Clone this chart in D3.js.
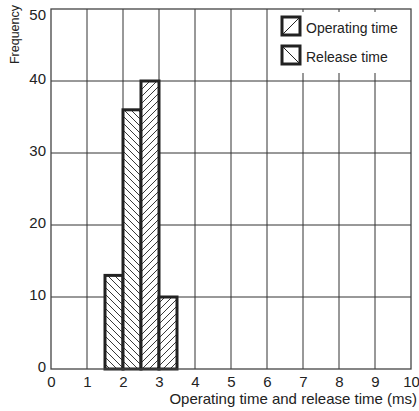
<!DOCTYPE html>
<html>
<head>
<meta charset="utf-8">
<script src="https://cdn.jsdelivr.net/npm/d3@7"></script>
<style>
  body { margin: 0; background: #fff; }
  text { font-family: "Liberation Sans", Arial, sans-serif; fill: #222; }
</style>
</head>
<body>
<svg id="chart" width="419" height="411"></svg>
<script>
// data
const binEdges = [1.5, 2.0, 2.5, 3.0, 3.5];
const releaseCounts = [13, 36, 0, 0];
const operatingCounts = [0, 0, 40, 10];
const xTicks = [0, 1, 2, 3, 4, 5, 6, 7, 8, 9, 10];
const yTicks = [0, 10, 20, 30, 40, 50];
const legendLabels = ['Operating time', 'Release time'];

// plot area edges
const pLeft = 51, pRight = 411, pTop = 9, pBottom = 369;

const x = d3.scaleLinear().domain([0, 10]).range([pLeft, pRight]);
const y = d3.scaleLinear().domain([0, 50]).range([pBottom, pTop]);

const svg = d3.select('#chart');

// hatch patterns
const defs = svg.append('defs');
const fwd = defs.append('pattern')
  .attr('id', 'fwd').attr('patternUnits', 'userSpaceOnUse')
  .attr('width', 7).attr('height', 7);
fwd.append('rect').attr('width', 7).attr('height', 7).attr('fill', '#fff');
fwd.append('path').attr('d', 'M-1,1 l2,-2 M0,7 l7,-7 M6,8 l2,-2')
  .attr('stroke', '#222').attr('stroke-width', 0.9);
const back = defs.append('pattern')
  .attr('id', 'back').attr('patternUnits', 'userSpaceOnUse')
  .attr('width', 7).attr('height', 7);
back.append('rect').attr('width', 7).attr('height', 7).attr('fill', '#fff');
back.append('path').attr('d', 'M0,0 l7,7 M-1,6 l2,2 M6,-1 l2,2')
  .attr('stroke', '#222').attr('stroke-width', 0.9);

// grid
svg.append('g').selectAll('line').data(xTicks.slice(1, -1)).enter()
  .append('line')
  .attr('x1', d => x(d)).attr('x2', d => x(d))
  .attr('y1', pTop).attr('y2', pBottom)
  .attr('stroke', '#333').attr('stroke-width', 1);
svg.append('g').selectAll('line').data(yTicks.slice(1, -1)).enter()
  .append('line')
  .attr('x1', pLeft).attr('x2', pRight)
  .attr('y1', d => y(d)).attr('y2', d => y(d))
  .attr('stroke', '#333').attr('stroke-width', 1);

// legend
const lg = svg.append('g');
lg.append('rect').attr('x', 274).attr('y', 12).attr('width', pRight - 274).attr('height', 61)
  .attr('fill', '#fff');
legendLabels.forEach((lab, i) => {
  const sy = 17 + i * 29;
  lg.append('rect').attr('x', 282).attr('y', sy).attr('width', 18).attr('height', 18)
    .attr('fill', '#fff').attr('stroke', '#222').attr('stroke-width', 3);
  if (i === 0) {
    lg.append('line').attr('x1', 282).attr('y1', sy + 18).attr('x2', 300).attr('y2', sy)
      .attr('stroke', '#222').attr('stroke-width', 1);
  } else {
    lg.append('line').attr('x1', 282).attr('y1', sy).attr('x2', 300).attr('y2', sy + 18)
      .attr('stroke', '#222').attr('stroke-width', 1);
  }
  lg.append('text').attr('x', 306).attr('y', sy + 15.5)
    .attr('font-size', 14).text(lab);
});

// bars
const bins = binEdges.slice(0, -1).map((b, i) => ({
  x0: b, x1: binEdges[i + 1],
  value: releaseCounts[i] || operatingCounts[i],
  kind: releaseCounts[i] ? 'back' : 'fwd'
}));
svg.append('g').selectAll('rect').data(bins).enter()
  .append('rect')
  .attr('x', d => x(d.x0))
  .attr('y', d => y(d.value))
  .attr('width', d => x(d.x1) - x(d.x0))
  .attr('height', d => y(0) - y(d.value))
  .attr('fill', d => `url(#${d.kind})`)
  .attr('stroke', '#222').attr('stroke-width', 3);

// frame
svg.append('rect').attr('x', pLeft).attr('y', pTop)
  .attr('width', pRight - pLeft).attr('height', pBottom - pTop)
  .attr('fill', 'none').attr('stroke', '#444').attr('stroke-width', 1.3);

// axes
const xAxis = svg.append('g')
  .attr('transform', `translate(0,${pBottom})`)
  .call(d3.axisBottom(x).tickValues(xTicks).tickSize(0).tickPadding(7));
xAxis.select('.domain').remove();
xAxis.selectAll('text').attr('font-size', 15).attr('fill', '#222')
  .attr('font-family', '"Liberation Sans", Arial, sans-serif');

const yAxis = svg.append('g')
  .attr('transform', `translate(${pLeft},0)`)
  .call(d3.axisLeft(y).tickValues(yTicks).tickSize(0).tickPadding(5));
yAxis.select('.domain').remove();
yAxis.selectAll('text').attr('font-size', 15).attr('fill', '#222')
  .attr('dy', d => d === 50 ? '0.7em' : '0.15em')
  .attr('font-family', '"Liberation Sans", Arial, sans-serif');

// labels
svg.append('text')
  .attr('transform', 'rotate(-90)')
  .attr('x', -5).attr('y', 19)
  .attr('text-anchor', 'end')
  .attr('font-size', 12.5)
  .text('Frequency');

svg.append('text')
  .attr('x', 417).attr('y', 404)
  .attr('text-anchor', 'end')
  .attr('font-size', 15)
  .text('Operating time and release time (ms)');
</script>
</body>
</html>
